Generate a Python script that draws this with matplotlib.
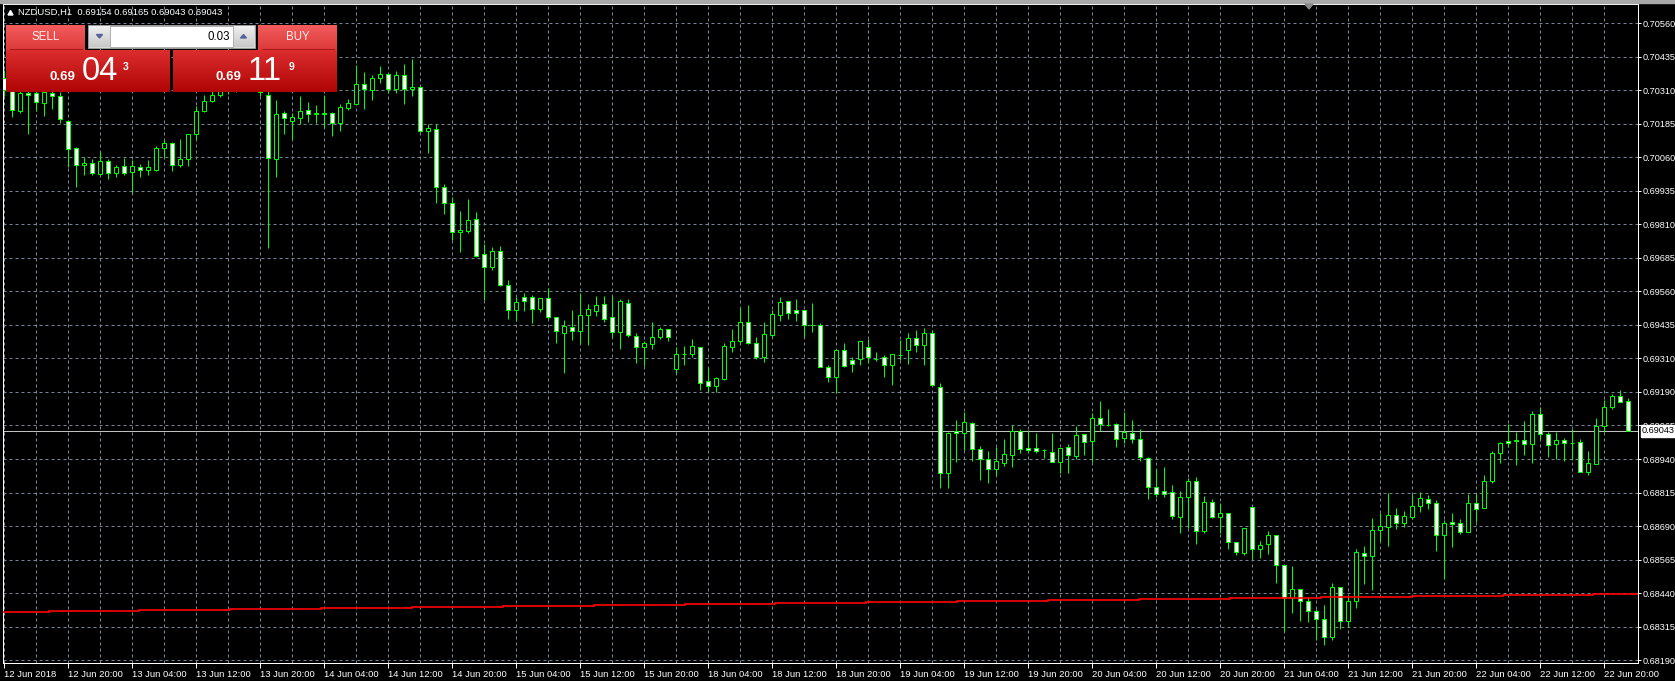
import numpy as np
import matplotlib
matplotlib.use("Agg")
import matplotlib.pyplot as plt
import matplotlib.colors as mcolors
from matplotlib.patches import Rectangle, Polygon

plt.rcParams['font.family'] = ['Liberation Sans', 'DejaVu Sans']

# NZDUSD H1, 12 Jun 2018 12:00 .. 22 Jun 2018 23:00 (one bar per hour)
opens = [
    0.70357, 0.70312, 0.70235, 0.70301, 0.70300, 0.70262, 0.70300, 0.70290, 0.70195, 0.70095,
    0.70032, 0.70039, 0.70000, 0.70047, 0.70002, 0.70028, 0.70006, 0.70026, 0.70013, 0.70013,
    0.70095, 0.70114, 0.70032, 0.70054, 0.70147, 0.70233, 0.70272, 0.70293, 0.70327, 0.70312,
    0.70357, 0.70386, 0.70364, 0.70293, 0.70054, 0.70225, 0.70198, 0.70209, 0.70236, 0.70224,
    0.70225, 0.70225, 0.70190, 0.70246, 0.70261, 0.70333, 0.70312, 0.70358, 0.70370, 0.70315,
    0.70367, 0.70315, 0.70324, 0.70158, 0.70168, 0.69950, 0.69890, 0.69782, 0.69788, 0.69831,
    0.69700, 0.69654, 0.69712, 0.69587, 0.69492, 0.69540, 0.69540, 0.69498, 0.69537, 0.69466,
    0.69409, 0.69431, 0.69414, 0.69473, 0.69490, 0.69514, 0.69466, 0.69410, 0.69520, 0.69397,
    0.69354, 0.69368, 0.69394, 0.69424, 0.69275, 0.69330, 0.69330, 0.69356, 0.69228, 0.69211,
    0.69237, 0.69356, 0.69379, 0.69447, 0.69371, 0.69319, 0.69401, 0.69476, 0.69525, 0.69492,
    0.69492, 0.69436, 0.69436, 0.69282, 0.69245, 0.69343, 0.69306, 0.69310, 0.69356, 0.69312,
    0.69317, 0.69287, 0.69324, 0.69344, 0.69389, 0.69363, 0.69407, 0.69208, 0.68887, 0.69042,
    0.69036, 0.69071, 0.68975, 0.68940, 0.68902, 0.68925, 0.68955, 0.69044, 0.68978, 0.68978,
    0.68971, 0.68966, 0.68926, 0.68982, 0.68951, 0.69030, 0.69004, 0.69090, 0.69066, 0.69068,
    0.69015, 0.69034, 0.69012, 0.68941, 0.68835, 0.68818, 0.68817, 0.68721, 0.68796, 0.68855,
    0.68672, 0.68777, 0.68721, 0.68736, 0.68628, 0.68590, 0.68759, 0.68605, 0.68621, 0.68654,
    0.68543, 0.68420, 0.68453, 0.68409, 0.68372, 0.68344, 0.68277, 0.68461, 0.68337, 0.68411,
    0.68587, 0.68578, 0.68673, 0.68686, 0.68729, 0.68699, 0.68721, 0.68762, 0.68788, 0.68774,
    0.68657, 0.68703, 0.68699, 0.68666, 0.68774, 0.68755, 0.68855, 0.68960, 0.69004, 0.69009,
    0.69009, 0.68993, 0.69105, 0.69030, 0.68993, 0.69008, 0.68997, 0.69001, 0.68889, 0.68919,
    0.69060, 0.69131, 0.69172, 0.69154,
]
highs = [
    0.70386, 0.70327, 0.70319, 0.70327, 0.70319, 0.70319, 0.70312, 0.70305, 0.70199, 0.70099,
    0.70064, 0.70056, 0.70081, 0.70056, 0.70032, 0.70058, 0.70051, 0.70037, 0.70051, 0.70104,
    0.70126, 0.70118, 0.70128, 0.70147, 0.70252, 0.70293, 0.70319, 0.70349, 0.70349, 0.70379,
    0.70409, 0.70416, 0.70379, 0.70331, 0.70275, 0.70234, 0.70227, 0.70290, 0.70267, 0.70256,
    0.70293, 0.70230, 0.70260, 0.70277, 0.70405, 0.70379, 0.70368, 0.70401, 0.70375, 0.70383,
    0.70409, 0.70426, 0.70327, 0.70185, 0.70185, 0.69962, 0.69915, 0.69862, 0.69905, 0.69858,
    0.69738, 0.69726, 0.69731, 0.69605, 0.69543, 0.69555, 0.69549, 0.69537, 0.69574, 0.69466,
    0.69456, 0.69492, 0.69555, 0.69515, 0.69545, 0.69545, 0.69545, 0.69533, 0.69533, 0.69406,
    0.69379, 0.69447, 0.69431, 0.69424, 0.69356, 0.69359, 0.69384, 0.69356, 0.69276, 0.69245,
    0.69370, 0.69422, 0.69501, 0.69512, 0.69391, 0.69447, 0.69493, 0.69541, 0.69525, 0.69533,
    0.69492, 0.69518, 0.69444, 0.69287, 0.69343, 0.69370, 0.69319, 0.69377, 0.69384, 0.69336,
    0.69327, 0.69328, 0.69381, 0.69407, 0.69419, 0.69426, 0.69419, 0.69220, 0.69040, 0.69084,
    0.69113, 0.69076, 0.68987, 0.68968, 0.68982, 0.69013, 0.69064, 0.69049, 0.69046, 0.69034,
    0.68977, 0.69034, 0.68978, 0.68994, 0.69061, 0.69030, 0.69111, 0.69154, 0.69125, 0.69071,
    0.69113, 0.69084, 0.69049, 0.68945, 0.68902, 0.68909, 0.68842, 0.68820, 0.68867, 0.68870,
    0.68801, 0.68788, 0.68774, 0.68736, 0.68628, 0.68681, 0.68759, 0.68632, 0.68669, 0.68654,
    0.68543, 0.68540, 0.68453, 0.68426, 0.68379, 0.68394, 0.68476, 0.68461, 0.68429, 0.68602,
    0.68615, 0.68719, 0.68736, 0.68811, 0.68755, 0.68744, 0.68807, 0.68816, 0.68803, 0.68786,
    0.68711, 0.68736, 0.68714, 0.68808, 0.68808, 0.68878, 0.68968, 0.69003, 0.69069, 0.69039,
    0.69079, 0.69117, 0.69133, 0.69039, 0.69039, 0.69017, 0.69050, 0.69012, 0.68967, 0.69090,
    0.69157, 0.69180, 0.69194, 0.69165,
]
lows = [
    0.70290, 0.70210, 0.70226, 0.70148, 0.70235, 0.70215, 0.70240, 0.70188, 0.70024, 0.69950,
    0.69994, 0.69994, 0.69994, 0.69982, 0.69989, 0.69994, 0.69928, 0.69989, 0.69994, 0.70009,
    0.70064, 0.70012, 0.70024, 0.70029, 0.70131, 0.70230, 0.70268, 0.70286, 0.70297, 0.70305,
    0.70342, 0.70349, 0.70290, 0.69723, 0.69989, 0.70148, 0.70131, 0.70185, 0.70193, 0.70190,
    0.70169, 0.70141, 0.70160, 0.70238, 0.70261, 0.70241, 0.70275, 0.70339, 0.70302, 0.70302,
    0.70260, 0.70290, 0.70156, 0.70079, 0.69892, 0.69850, 0.69754, 0.69710, 0.69779, 0.69691,
    0.69530, 0.69642, 0.69582, 0.69460, 0.69451, 0.69490, 0.69446, 0.69487, 0.69458, 0.69369,
    0.69260, 0.69381, 0.69371, 0.69362, 0.69471, 0.69450, 0.69394, 0.69349, 0.69391, 0.69297,
    0.69285, 0.69349, 0.69386, 0.69379, 0.69258, 0.69290, 0.69319, 0.69195, 0.69188, 0.69188,
    0.69233, 0.69337, 0.69371, 0.69367, 0.69310, 0.69300, 0.69394, 0.69453, 0.69461, 0.69451,
    0.69394, 0.69411, 0.69280, 0.69226, 0.69184, 0.69282, 0.69262, 0.69290, 0.69297, 0.69302,
    0.69243, 0.69215, 0.69307, 0.69292, 0.69337, 0.69290, 0.69210, 0.68832, 0.68832, 0.68928,
    0.68972, 0.68932, 0.68860, 0.68850, 0.68880, 0.68912, 0.68910, 0.68962, 0.68966, 0.68962,
    0.68942, 0.68926, 0.68885, 0.68885, 0.68937, 0.68955, 0.68927, 0.69042, 0.69061, 0.68982,
    0.68997, 0.68997, 0.68930, 0.68791, 0.68796, 0.68798, 0.68716, 0.68664, 0.68681, 0.68623,
    0.68664, 0.68719, 0.68663, 0.68605, 0.68582, 0.68582, 0.68567, 0.68570, 0.68585, 0.68478,
    0.68299, 0.68366, 0.68337, 0.68332, 0.68265, 0.68246, 0.68265, 0.68307, 0.68314, 0.68384,
    0.68473, 0.68451, 0.68634, 0.68615, 0.68679, 0.68684, 0.68716, 0.68742, 0.68751, 0.68597,
    0.68493, 0.68612, 0.68660, 0.68666, 0.68703, 0.68755, 0.68849, 0.68925, 0.68982, 0.68917,
    0.68952, 0.68925, 0.69014, 0.68947, 0.68937, 0.68932, 0.68935, 0.68889, 0.68878, 0.68919,
    0.69038, 0.69125, 0.69150, 0.69043,
]
closes = [
    0.70312, 0.70238, 0.70300, 0.70293, 0.70266, 0.70305, 0.70290, 0.70203, 0.70091, 0.70032,
    0.70039, 0.70002, 0.70047, 0.70002, 0.70024, 0.70002, 0.70028, 0.70013, 0.70024, 0.70095,
    0.70114, 0.70032, 0.70054, 0.70147, 0.70233, 0.70272, 0.70293, 0.70327, 0.70312, 0.70357,
    0.70386, 0.70364, 0.70305, 0.70058, 0.70223, 0.70207, 0.70210, 0.70233, 0.70221, 0.70226,
    0.70224, 0.70188, 0.70248, 0.70262, 0.70333, 0.70315, 0.70356, 0.70370, 0.70315, 0.70367,
    0.70315, 0.70324, 0.70160, 0.70169, 0.69950, 0.69890, 0.69782, 0.69790, 0.69827, 0.69695,
    0.69654, 0.69712, 0.69587, 0.69492, 0.69522, 0.69528, 0.69498, 0.69537, 0.69466, 0.69414,
    0.69434, 0.69414, 0.69473, 0.69496, 0.69511, 0.69461, 0.69410, 0.69525, 0.69399, 0.69354,
    0.69369, 0.69394, 0.69424, 0.69394, 0.69328, 0.69330, 0.69358, 0.69222, 0.69211, 0.69239,
    0.69358, 0.69377, 0.69447, 0.69371, 0.69317, 0.69403, 0.69477, 0.69522, 0.69481, 0.69481,
    0.69436, 0.69436, 0.69282, 0.69245, 0.69343, 0.69286, 0.69291, 0.69377, 0.69317, 0.69312,
    0.69287, 0.69328, 0.69324, 0.69389, 0.69363, 0.69407, 0.69213, 0.68887, 0.69034, 0.69034,
    0.69075, 0.68975, 0.68940, 0.68900, 0.68930, 0.68956, 0.69044, 0.68975, 0.68971, 0.68967,
    0.68971, 0.68926, 0.68978, 0.68952, 0.69027, 0.69001, 0.69090, 0.69069, 0.69066, 0.69012,
    0.69039, 0.69012, 0.68945, 0.68835, 0.68807, 0.68807, 0.68725, 0.68796, 0.68855, 0.68672,
    0.68777, 0.68721, 0.68736, 0.68628, 0.68593, 0.68681, 0.68602, 0.68617, 0.68654, 0.68543,
    0.68420, 0.68453, 0.68409, 0.68372, 0.68344, 0.68275, 0.68461, 0.68337, 0.68409, 0.68591,
    0.68578, 0.68673, 0.68688, 0.68729, 0.68699, 0.68725, 0.68762, 0.68792, 0.68774, 0.68654,
    0.68699, 0.68695, 0.68666, 0.68774, 0.68751, 0.68855, 0.68960, 0.68997, 0.68997, 0.69004,
    0.68993, 0.69105, 0.69030, 0.68989, 0.69008, 0.68997, 0.68997, 0.68889, 0.68922, 0.69060,
    0.69131, 0.69172, 0.69150, 0.69043,
]

time_labels = [
    "12 Jun 2018", "12 Jun 20:00", "13 Jun 04:00", "13 Jun 12:00", "13 Jun 20:00",
    "14 Jun 04:00", "14 Jun 12:00", "14 Jun 20:00", "15 Jun 04:00", "15 Jun 12:00",
    "15 Jun 20:00", "18 Jun 04:00", "18 Jun 12:00", "18 Jun 20:00", "19 Jun 04:00",
    "19 Jun 12:00", "19 Jun 20:00", "20 Jun 04:00", "20 Jun 12:00", "20 Jun 20:00",
    "21 Jun 04:00", "21 Jun 12:00", "21 Jun 20:00", "22 Jun 04:00", "22 Jun 12:00",
    "22 Jun 20:00",
]
price_labels = [
    "0.70560", "0.70435", "0.70310", "0.70185", "0.70060", "0.69935", "0.69810",
    "0.69685", "0.69560", "0.69435", "0.69310", "0.69190", "0.69065", "0.68940",
    "0.68815", "0.68690", "0.68565", "0.68440", "0.68315", "0.68190",
]

# red stepped indicator (level per step, and the bar where each new step starts)
ma_levels = [
    0.68368, 0.68372, 0.68376, 0.68379, 0.68383, 0.68387, 0.68391, 0.68394, 0.68398, 0.68402,
    0.68405, 0.68409, 0.68413, 0.68417, 0.68420, 0.68424, 0.68428, 0.68432, 0.68435,
]
ma_breaks = [5.7, 16.9, 28.3, 39.7, 51.0, 62.4, 73.8, 85.2, 96.4, 107.8,
             119.2, 130.6, 141.9, 153.3, 164.7, 176.1, 187.4, 198.7]

symbol = "NZDUSD,H1"
bid = 0.69043
ask = 0.69119
lot = "0.03"

W, H = 1675, 681
PX = 0.72  # one pixel in points
GREEN = "#00ff00"
GRID = "#778899"

fig = plt.figure(figsize=(W / 100, H / 100), dpi=100, facecolor="black")
ax = fig.add_axes([3 / W, (H - 663) / H, 1635 / W, 659 / H])
ax.set_facecolor("black")

o = np.array(opens)
hi = np.array(highs)
lo = np.array(lows)
c = np.array(closes)
n = len(o)
x = np.arange(n)

xmin = -0.075
xmax = xmin + 1635 / 8
ax.set_xlim(xmin, xmax)
ax.set_ylim(0.681791, 0.706321)

# candles: wicks then bodies (black = up bar, white = down bar)
ax.vlines(x, lo, hi, color=GREEN, lw=PX, zorder=3)
fills = np.where(c > o, "black", "white")
ax.bar(x, c - o, bottom=o, width=0.5, color=fills, edgecolor=GREEN,
       linewidth=PX, zorder=4)

# indicator and current bid line
ax.stairs(ma_levels, [xmin] + ma_breaks + [xmax], color="#ff0000",
          lw=1.2, baseline=None, zorder=5)
ax.axhline(bid, color="#c0c0c0", lw=PX, zorder=2)

# axes, ticks, grid
yt = np.linspace(0.70560, 0.68190, len(price_labels))
ax.set_yticks(yt)
ax.set_yticklabels(price_labels)
ax.yaxis.tick_right()
ax.set_xticks(np.arange(0, n, 8)[:len(time_labels)])
ax.set_xticklabels(time_labels, ha="left")
ax.set_xticks(np.arange(0, n, 4), minor=True)
ax.tick_params(axis="y", colors="white", labelsize=6.6, length=2.2, width=PX, pad=1.4)
ax.tick_params(axis="x", colors="white", labelsize=6.8, length=3.6, width=PX, pad=1.6)
ax.tick_params(axis="x", which="minor", length=0)
ax.grid(axis="y", color=GRID, lw=PX, ls=(0, (3, 3)))
ax.grid(axis="x", which="both", color=GRID, lw=PX, ls=(0, (3, 3)))
ax.set_axisbelow(True)
for s in ax.spines.values():
    s.set_color("white")
    s.set_linewidth(PX)

ax.annotate(f"{bid:.5f}", xy=(1, bid), xycoords=("axes fraction", "data"),
            xytext=(4, 0), textcoords="offset pixels", va="center", ha="left",
            fontsize=6.6, color="black", annotation_clip=False,
            bbox=dict(boxstyle="square,pad=0.15", fc="white", ec="white"))

# ---- overlay in pixel coordinates: title and the one-click trading panel ----
ov = fig.add_axes([0, 0, 1, 1])
ov.patch.set_visible(False)
ov.axis("off")


def grad_box(x0, y0, x1, y1, top, bottom):
    c0 = np.array(mcolors.to_rgb(top))
    c1 = np.array(mcolors.to_rgb(bottom))
    t = np.linspace(0, 1, 64)[:, None, None]
    img = c0 + (c1 - c0) * t
    ov.imshow(img, extent=(x0, x1, y1, y0), aspect="auto",
              interpolation="bilinear", zorder=10)


ov.add_patch(Rectangle((0, 0), W, 3, color="#a8a8a8", zorder=9))
ov.add_patch(Polygon([(1305, 4), (1313, 4), (1309, 9)], color="#8a8a8a", zorder=9))

ov.add_patch(Polygon([(8, 15), (13, 15), (10.5, 10.5)], color="white", zorder=11))
ov.text(18, 12.8, f"{symbol}  {opens[-1]:.5f} {highs[-1]:.5f} {lows[-1]:.5f} {closes[-1]:.5f}",
        color="white", fontsize=6.8, va="center", zorder=11)

# SELL / BUY headers
grad_box(6, 25, 85, 50, "#f45c5c", "#dc3a3a")
grad_box(258, 25, 337, 50, "#f45c5c", "#dc3a3a")
ov.plot([10, 82], [49.3, 49.3], color="#a81818", lw=PX, zorder=11)
ov.plot([262, 334], [49.3, 49.3], color="#a81818", lw=PX, zorder=11)
ov.text(45.5, 36.5, "SELL", color="#fff0f0", fontsize=8.3, ha="center", va="center", zorder=12)
ov.text(297.5, 36.5, "BUY", color="#fff0f0", fontsize=8.3, ha="center", va="center", zorder=12)

# lot size box
ov.add_patch(Rectangle((88, 25), 167, 23, fc="#d8d8d8", ec="#9a9a9a", lw=PX, zorder=10))
grad_box(89, 26, 110, 47, "#f0f0f0", "#c8c8c8")
grad_box(233, 26, 254, 47, "#f0f0f0", "#c8c8c8")
ov.add_patch(Rectangle((110, 26), 123, 21, fc="white", ec="#b0b0b0", lw=PX, zorder=11))
ov.add_patch(Polygon([(96.5, 34.5), (102.5, 34.5), (99.5, 38)], color="#55659a", zorder=12))
ov.add_patch(Polygon([(240.5, 38), (246.5, 38), (243.5, 34.5)], color="#55659a", zorder=12))
ov.text(230, 36.5, lot, color="black", fontsize=8.3, ha="right", va="center", zorder=12)

# price boxes
grad_box(6, 50, 170, 92, "#dc2e2e", "#b00404")
grad_box(173, 50, 337, 92, "#dc2e2e", "#b00404")
for price, x0 in [(bid, 50), (ask, 216)]:
    s = f"{price:.5f}"
    ov.text(x0, 79.5, s[:4], color="white", fontsize=9.5, fontweight="bold",
            va="baseline", zorder=12)
    ov.text(x0 + 32, 80, s[4:6], color="white", fontsize=23.5, va="baseline", zorder=12)
    ov.text(x0 + 73, 62, s[6], color="white", fontsize=7.5, fontweight="bold",
            va="top", zorder=12)

ov.set_xlim(0, W)
ov.set_ylim(H, 0)

fig.savefig("out.png", dpi=100, facecolor="black")
